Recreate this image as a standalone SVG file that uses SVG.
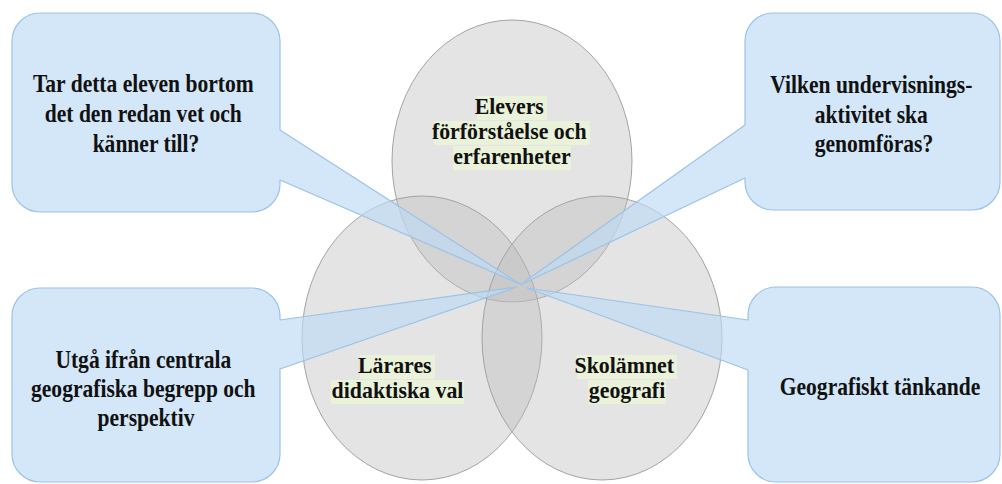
<svg xmlns="http://www.w3.org/2000/svg" width="1002" height="484" viewBox="0 0 1002 484">
  <defs>
    <style>
      .circle { fill: #bcbcbc; fill-opacity: 0.4; stroke: #a3a3a3; stroke-width: 1; }
      .callout { fill: #bedaf5; fill-opacity: 0.66; stroke: #9cc2e6; stroke-width: 1.2; stroke-linejoin: round; }
      .hl { fill: #eaf2da; }
    </style>
  </defs>
  <rect width="1002" height="484" fill="#ffffff"/>

  <g id="circles">
    <ellipse id="circle-elevers" class="circle" cx="512" cy="161" rx="120" ry="141"/>
    <ellipse id="circle-larares" class="circle" cx="422" cy="338" rx="120" ry="142"/>
    <ellipse id="circle-skolamnet" class="circle" cx="602" cy="338" rx="120" ry="142"/>
  </g>

  <g id="connectors"></g>

  <g id="callout-top-left">
    <path class="callout" d="M40,13 H252 A28,28 0 0 1 280,41 V130 L520,284 L280,180 V184 A28,28 0 0 1 252,212 H40 A28,28 0 0 1 12,184 V41 A28,28 0 0 1 40,13 Z"/>
    <text font-family="'Liberation Serif', serif" font-weight="bold" font-size="25.5" fill="#111" text-anchor="middle" transform="translate(146,92) scale(0.845,1)">
      <tspan x="0" y="0">Tar detta eleven bortom</tspan>
      <tspan x="0" y="30">det den redan vet och</tspan>
      <tspan x="0" y="60">känner till?</tspan>
    </text>
  </g>

  <g id="callout-top-right">
    <path class="callout" d="M773,13 H972 A28,28 0 0 1 1000,41 V182 A28,28 0 0 1 972,210 H773 A28,28 0 0 1 745,182 V178 L520,285 L745,125 V41 A28,28 0 0 1 773,13 Z"/>
    <text font-family="'Liberation Serif', serif" font-weight="bold" font-size="25.5" fill="#111" text-anchor="middle" transform="translate(874,93) scale(0.845,1)">
      <tspan x="0" y="0">Vilken undervisnings-</tspan>
      <tspan x="0" y="30">aktivitet ska</tspan>
      <tspan x="0" y="59">genomföras?</tspan>
    </text>
  </g>

  <g id="callout-bottom-left">
    <path class="callout" d="M40,288 H252 A28,28 0 0 1 280,316 V320 L517,287 L280,369 V454 A28,28 0 0 1 252,482 H40 A28,28 0 0 1 12,454 V316 A28,28 0 0 1 40,288 Z"/>
    <text font-family="'Liberation Serif', serif" font-weight="bold" font-size="25.5" fill="#111" text-anchor="middle" transform="translate(146,368) scale(0.845,1)">
      <tspan x="0" y="0">Utgå ifrån centrala</tspan>
      <tspan x="0" y="29">geografiska begrepp och</tspan>
      <tspan x="0" y="58">perspektiv</tspan>
    </text>
  </g>

  <g id="callout-bottom-right">
    <path class="callout" d="M776,287 H972 A28,28 0 0 1 1000,315 V454 A28,28 0 0 1 972,482 H776 A28,28 0 0 1 748,454 V370 L527,288 L748,320 V315 A28,28 0 0 1 776,287 Z"/>
    <text font-family="'Liberation Serif', serif" font-weight="bold" font-size="25.5" fill="#111" text-anchor="middle" transform="translate(880,395) scale(0.845,1)">
      <tspan x="0" y="0">Geografiskt tänkande</tspan>
    </text>
  </g>

  <g id="label-elevers">
    <rect class="hl" x="477" y="96" width="70" height="24"/>
    <rect class="hl" x="434" y="121" width="156" height="24"/>
    <rect class="hl" x="453" y="146" width="118" height="24"/>
    <text font-family="'Liberation Serif', serif" font-weight="bold" font-size="23.5" fill="#111" text-anchor="middle" transform="translate(512,114) scale(0.93,1)">
      <tspan x="0" y="0">Elevers</tspan>
      <tspan x="0" y="25">förförståelse och</tspan>
      <tspan x="0" y="50">erfarenheter</tspan>
    </text>
  </g>

  <g id="label-larares">
    <rect class="hl" x="360" y="355" width="75" height="24"/>
    <rect class="hl" x="331" y="380" width="133" height="24"/>
    <text font-family="'Liberation Serif', serif" font-weight="bold" font-size="23.5" fill="#111" text-anchor="middle" transform="translate(397.5,373) scale(0.93,1)">
      <tspan x="0" y="0">Lärares</tspan>
      <tspan x="0" y="25">didaktiska val</tspan>
    </text>
  </g>

  <g id="label-skolamnet">
    <rect class="hl" x="577" y="355" width="100" height="24"/>
    <rect class="hl" x="588" y="380" width="78" height="24"/>
    <text font-family="'Liberation Serif', serif" font-weight="bold" font-size="23.5" fill="#111" text-anchor="middle" transform="translate(627,373) scale(0.93,1)">
      <tspan x="0" y="0">Skolämnet</tspan>
      <tspan x="0" y="25">geografi</tspan>
    </text>
  </g>
</svg>
